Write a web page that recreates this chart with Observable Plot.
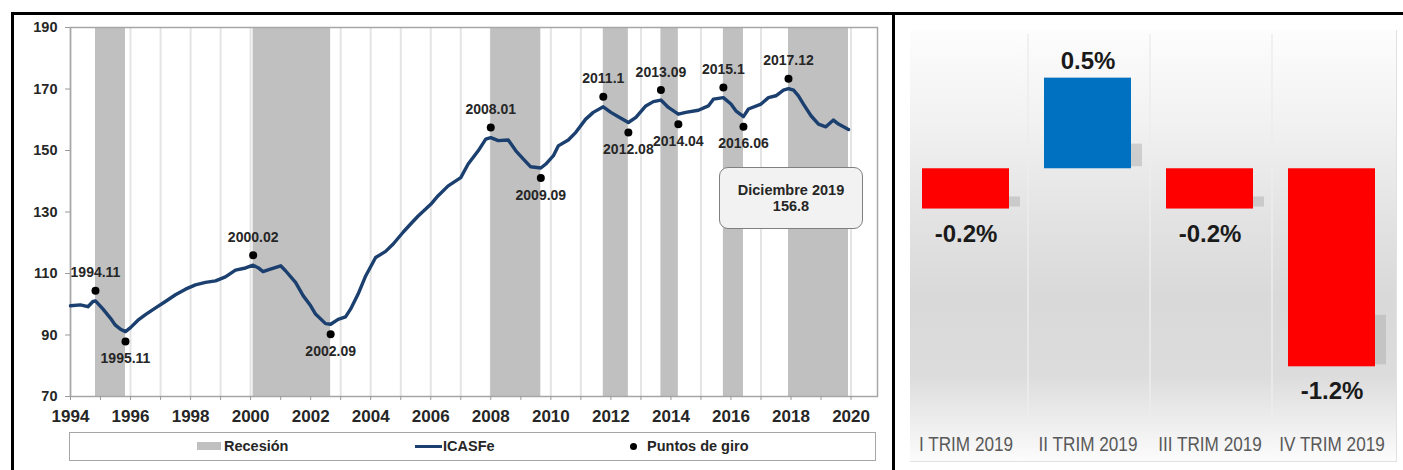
<!DOCTYPE html>
<html>
<head>
<meta charset="utf-8">
<script src="https://cdn.jsdelivr.net/npm/d3@7"></script>
<script src="https://cdn.jsdelivr.net/npm/@observablehq/plot@0.6"></script>
<style>
html, body { margin: 0; padding: 0; background: #fff; }
#page { position: relative; width: 1403px; height: 470px; overflow: hidden; font-family: "Liberation Sans", Arial, sans-serif; }
.bl { position: absolute; background: #000; }
#left { position: absolute; left: 14px; top: 14px; }
#legend { position: absolute; left: 69px; top: 432px; width: 805px; height: 27px; border: 1.5px solid #a6a6a6; background: #fff; color: #262626; font-weight: bold; font-size: 14.5px; }
#legend .it { position: absolute; top: 0; height: 27px; line-height: 27px; white-space: nowrap; }
#note { position: absolute; left: 719px; top: 167px; width: 142px; height: 60px; background: #f2f2f2; border: 1.5px solid #7f7f7f; border-radius: 9px; display: flex; flex-direction: column; justify-content: center; align-items: center; font-weight: bold; font-size: 14.5px; color: #262626; line-height: 16px; }
#rbg { position: absolute; left: 910px; top: 30px; width: 486px; height: 431px; border-right: 1px solid #e2e2e2; border-bottom: 1px solid #e2e2e2;
  background: linear-gradient(to bottom, #fdfdfd 0%, #f1f1f1 22%, #e2e2e2 45%, #d9d9d9 62%, #dcdcdc 80%, #fcfcfc 100%); }
#right { position: absolute; left: 904px; top: 30px; }
</style>
</head>
<body>
<div id="page">
  <div class="bl" style="left:11px;top:12px;width:1392px;height:3px"></div>
  <div class="bl" style="left:11px;top:12px;width:3px;height:458px"></div>
  <div class="bl" style="left:892px;top:12px;width:3px;height:458px"></div>
  <div id="rbg"></div>
  <div id="left"></div>
  <div id="note"></div>
  <div id="legend"></div>
  <div id="right"></div>
</div>
<script>
// ---------- Data: ICASFe (left chart) ----------
const icasfeDates = ["1994-01","1994-05","1994-08","1994-10","1994-11","1995-02","1995-05","1995-07","1995-09","1995-11",
  "1996-01","1996-04","1996-07","1996-11","1997-03","1997-07","1997-11","1998-03","1998-07","1998-11",
  "1999-03","1999-07","1999-11","2000-02","2000-04","2000-06","2000-08","2001-01","2001-03","2001-07",
  "2001-10","2002-01","2002-03","2002-07","2002-09","2002-12","2003-03","2003-05","2003-08","2003-11",
  "2004-03","2004-07","2004-10","2005-02","2005-05","2005-08","2006-01","2006-04","2006-08","2007-01",
  "2007-04","2007-08","2007-11","2008-01","2008-04","2008-08","2008-11","2009-02","2009-05","2009-09",
  "2009-11","2010-02","2010-04","2010-08","2010-11","2011-03","2011-06","2011-10","2012-01","2012-04",
  "2012-08","2012-11","2013-03","2013-06","2013-09","2013-12","2014-04","2014-07","2014-12","2015-04",
  "2015-06","2015-10","2016-01","2016-03","2016-06","2016-08","2017-01","2017-04","2017-07","2017-10",
  "2017-12","2018-02","2018-04","2018-06","2018-09","2018-12","2019-03","2019-06","2019-08","2019-12"];
const icasfeValues = [99.5,99.8,99.2,100.9,101.1,98.4,95.5,93.2,91.9,91.1,
  92.4,94.8,96.6,98.8,100.9,103.1,104.9,106.3,107.1,107.6,
  108.9,111.1,111.8,112.7,111.9,110.6,111.2,112.5,110.9,107.1,
  102.8,99.5,96.8,93.7,93.5,95.1,95.9,98.4,103.3,109.2,
  115.2,117.2,119.6,123.5,126.1,128.7,132.5,135.3,138.5,141.2,
  145.6,149.9,153.7,154.2,153.2,153.4,149.9,147.2,144.7,144.3,
  145.6,148.3,151.5,153.4,155.9,160.2,162.4,164.2,162.4,161.0,
  159.1,160.8,164.5,165.9,166.4,164.0,161.8,162.4,163.1,164.5,
  166.7,167.2,165.1,162.9,161.0,163.5,165.1,167.2,167.8,169.6,
  170.1,169.6,167.8,165.1,161.3,158.6,157.7,159.9,158.6,156.8];

const recessionStart = ["1994-11","2000-02","2008-01","2011-10","2013-09","2015-10","2017-12"];
const recessionEnd   = ["1995-11","2002-09","2009-09","2012-08","2014-04","2016-06","2019-12"];

const turningLabels = ["1994.11","1995.11","2000.02","2002.09","2008.01","2009.09","2011.1","2012.08","2013.09","2014.04","2015.1","2016.06","2017.12"];
const turningDates  = ["1994-11","1995-11","2000-02","2002-09","2008-01","2009-09","2011-10","2012-08","2013-09","2014-04","2015-10","2016-06","2017-12"];
const turningType   = ["peak","trough","peak","trough","peak","trough","peak","trough","peak","trough","peak","trough","peak"];

const yTicks = [70, 90, 110, 130, 150, 170, 190];
const xTickLabels = ["1994","1996","1998","2000","2002","2004","2006","2008","2010","2012","2014","2016","2018","2020"];

const legendLabels = ["Recesión", "ICASFe", "Puntos de giro"];
const noteTitle = "Diciembre 2019";

// ---------- Data: quarterly change (right chart) ----------
const quarters = ["I TRIM 2019", "II TRIM 2019", "III TRIM 2019", "IV TRIM 2019"];
const quarterChange = [-0.24, 0.54, -0.24, -1.18];

// ---------- Build tables ----------
const parseM = d3.utcParse("%Y-%m");
const series = icasfeDates.map((d, i) => ({date: parseM(d), value: icasfeValues[i]}));
const byDate = new Map(icasfeDates.map((d, i) => [d, icasfeValues[i]]));
const recessions = recessionStart.map((d, i) => ({start: parseM(d), end: parseM(recessionEnd[i])}));
const turning = turningLabels.map((l, i) => ({label: l, date: parseM(turningDates[i]), value: byDate.get(turningDates[i]), peak: turningType[i] === "peak"}));
const labelYears = new Set(xTickLabels);

const FONT = "'Liberation Sans', Arial, sans-serif";
const NAVY = "#1b3f6e";
const AXIS = "#9a9a9a";

const left = Plot.plot({
  width: 878,
  height: 412,
  marginLeft: 56,
  marginRight: 15,
  marginTop: 13,
  marginBottom: 30,
  style: {fontFamily: FONT, fontWeight: "bold", color: "#262626", background: "transparent", overflow: "visible"},
  x: {type: "utc", domain: [parseM("1994-01"), new Date(Date.UTC(2020, 10, 18))]},
  y: {domain: [70, 190]},
  marks: [
    Plot.gridX({ticks: d3.utcYear, stroke: "#e4e4e4", strokeOpacity: 1, strokeWidth: 2}),
    Plot.rect(recessions, {x1: "start", x2: "end", fill: "#c0c0c0"}),
    Plot.frame({stroke: "#a6a6a6", strokeWidth: 1.5}),
    Plot.axisY({ticks: yTicks, tickSize: 5, tickPadding: 8, stroke: AXIS, fontSize: 14.5, label: null}),
    Plot.axisX({ticks: d3.utcYear, tickSize: 4, tickPadding: 9, stroke: AXIS, fontSize: 17,
      tickFormat: d => labelYears.has(String(d.getUTCFullYear())) ? String(d.getUTCFullYear()) : "", label: null}),
    Plot.line(series, {x: "date", y: "value", stroke: NAVY, strokeWidth: 3.4, strokeLinejoin: "round", strokeLinecap: "round"}),
    Plot.dot(turning, {filter: d => d.peak, x: "date", y: "value", dy: -10, r: 4, fill: "#000"}),
    Plot.dot(turning, {filter: d => !d.peak, x: "date", y: "value", dy: 10, r: 4, fill: "#000"}),
    Plot.text(turning, {filter: d => d.peak, x: "date", y: "value", text: "label", dy: -28, fontSize: 14, fontWeight: "bold", fill: "#262626", ariaLabel: "turning-label"}),
    Plot.text(turning, {filter: d => !d.peak, x: "date", y: "value", text: "label", dy: 27, fontSize: 14, fontWeight: "bold", fill: "#262626", ariaLabel: "turning-label"})
  ]
});
document.getElementById("left").appendChild(left);

// white boxes behind the turning-point labels
const SVGNS = "http://www.w3.org/2000/svg";
left.querySelectorAll('g[aria-label="turning-label"] text').forEach(t => {
  const b = t.getBBox();
  const r = document.createElementNS(SVGNS, "rect");
  r.setAttribute("x", b.x - 4);
  r.setAttribute("y", b.y + 0.5);
  r.setAttribute("width", b.width + 8);
  r.setAttribute("height", b.height + 1);
  r.setAttribute("fill", "#fff");
  if (t.getAttribute("transform")) r.setAttribute("transform", t.getAttribute("transform"));
  t.parentNode.insertBefore(r, t);
});

// annotation box
const note = document.getElementById("note");
note.innerHTML = `<div>${noteTitle}</div><div>${icasfeValues[icasfeValues.length - 1].toFixed(1)}</div>`;

// legend
const legend = document.getElementById("legend");
legend.innerHTML = `
  <div class="it" style="left:127px"><span style="display:inline-block;width:24px;height:8px;background:#c0c0c0;vertical-align:middle;margin-right:3px;position:relative;top:-1px"></span>${legendLabels[0]}</div>
  <div class="it" style="left:345px"><span style="display:inline-block;width:27px;height:3px;background:${NAVY};vertical-align:middle;margin-right:1px;position:relative;top:-1px"></span>${legendLabels[1]}</div>
  <div class="it" style="left:560px"><span style="display:inline-block;width:7px;height:7px;border-radius:50%;background:#000;vertical-align:middle;margin-right:10px;position:relative;top:-1px"></span>${legendLabels[2]}</div>`;

// ---------- Right chart ----------
const bars = quarters.map((q, i) => ({q, v: quarterChange[i]}));
const right = Plot.plot({
  width: 488,
  height: 432,
  marginLeft: 0,
  marginRight: 0,
  marginTop: 4,
  marginBottom: 42,
  style: {fontFamily: FONT, background: "transparent", overflow: "visible"},
  x: {domain: quarters, paddingInner: 0.29, paddingOuter: 0.145},
  y: {domain: [-1.5, 0.8], axis: null},
  marks: [
    Plot.ruleX(quarters.slice(0, 3), {x: d => d, dx: 62, stroke: "#ececec", strokeWidth: 1.5}),
    Plot.rectY(bars, {x: "q", y1: d => Math.min(0, d.v), y2: d => Math.min(0, d.v) + 0.25 * Math.abs(d.v), dx: 11, dy: -2, fill: "#a8a8a8", fillOpacity: 0.45}),
    Plot.barY(bars, {x: "q", y: "v", fill: d => d.v >= 0 ? "#0070c0" : "#ff0000"}),
    Plot.text(bars, {filter: d => d.v >= 0, x: "q", y: "v", text: d => d.v.toFixed(1) + "%", dy: -17, fontSize: 24, fontWeight: "bold", fill: "#1a1a1a", ariaLabel: "narrow"}),
    Plot.text(bars, {filter: d => d.v < 0, x: "q", y: "v", text: d => d.v.toFixed(1) + "%", dy: 25, fontSize: 24, fontWeight: "bold", fill: "#1a1a1a", ariaLabel: "narrow"}),
    Plot.axisX({tickSize: 0, tickPadding: 17, fontSize: 19.5, fill: "#595959", label: null})
  ]
});
document.getElementById("right").appendChild(right);

// condense the right-panel text horizontally (Calibri-like narrow look)
right.querySelectorAll('g[aria-label="narrow"] text').forEach(t => {
  const L = t.getComputedTextLength();
  if (L > 0) { t.setAttribute("textLength", (L * 0.78).toFixed(1)); t.setAttribute("lengthAdjust", "spacingAndGlyphs"); }
});
right.querySelectorAll('g[aria-label="x-axis tick label"] text').forEach(t => {
  const L = t.getComputedTextLength();
  if (L > 0) { t.setAttribute("textLength", (L * 0.88).toFixed(1)); t.setAttribute("lengthAdjust", "spacingAndGlyphs"); }
});
</script>
</body>
</html>
